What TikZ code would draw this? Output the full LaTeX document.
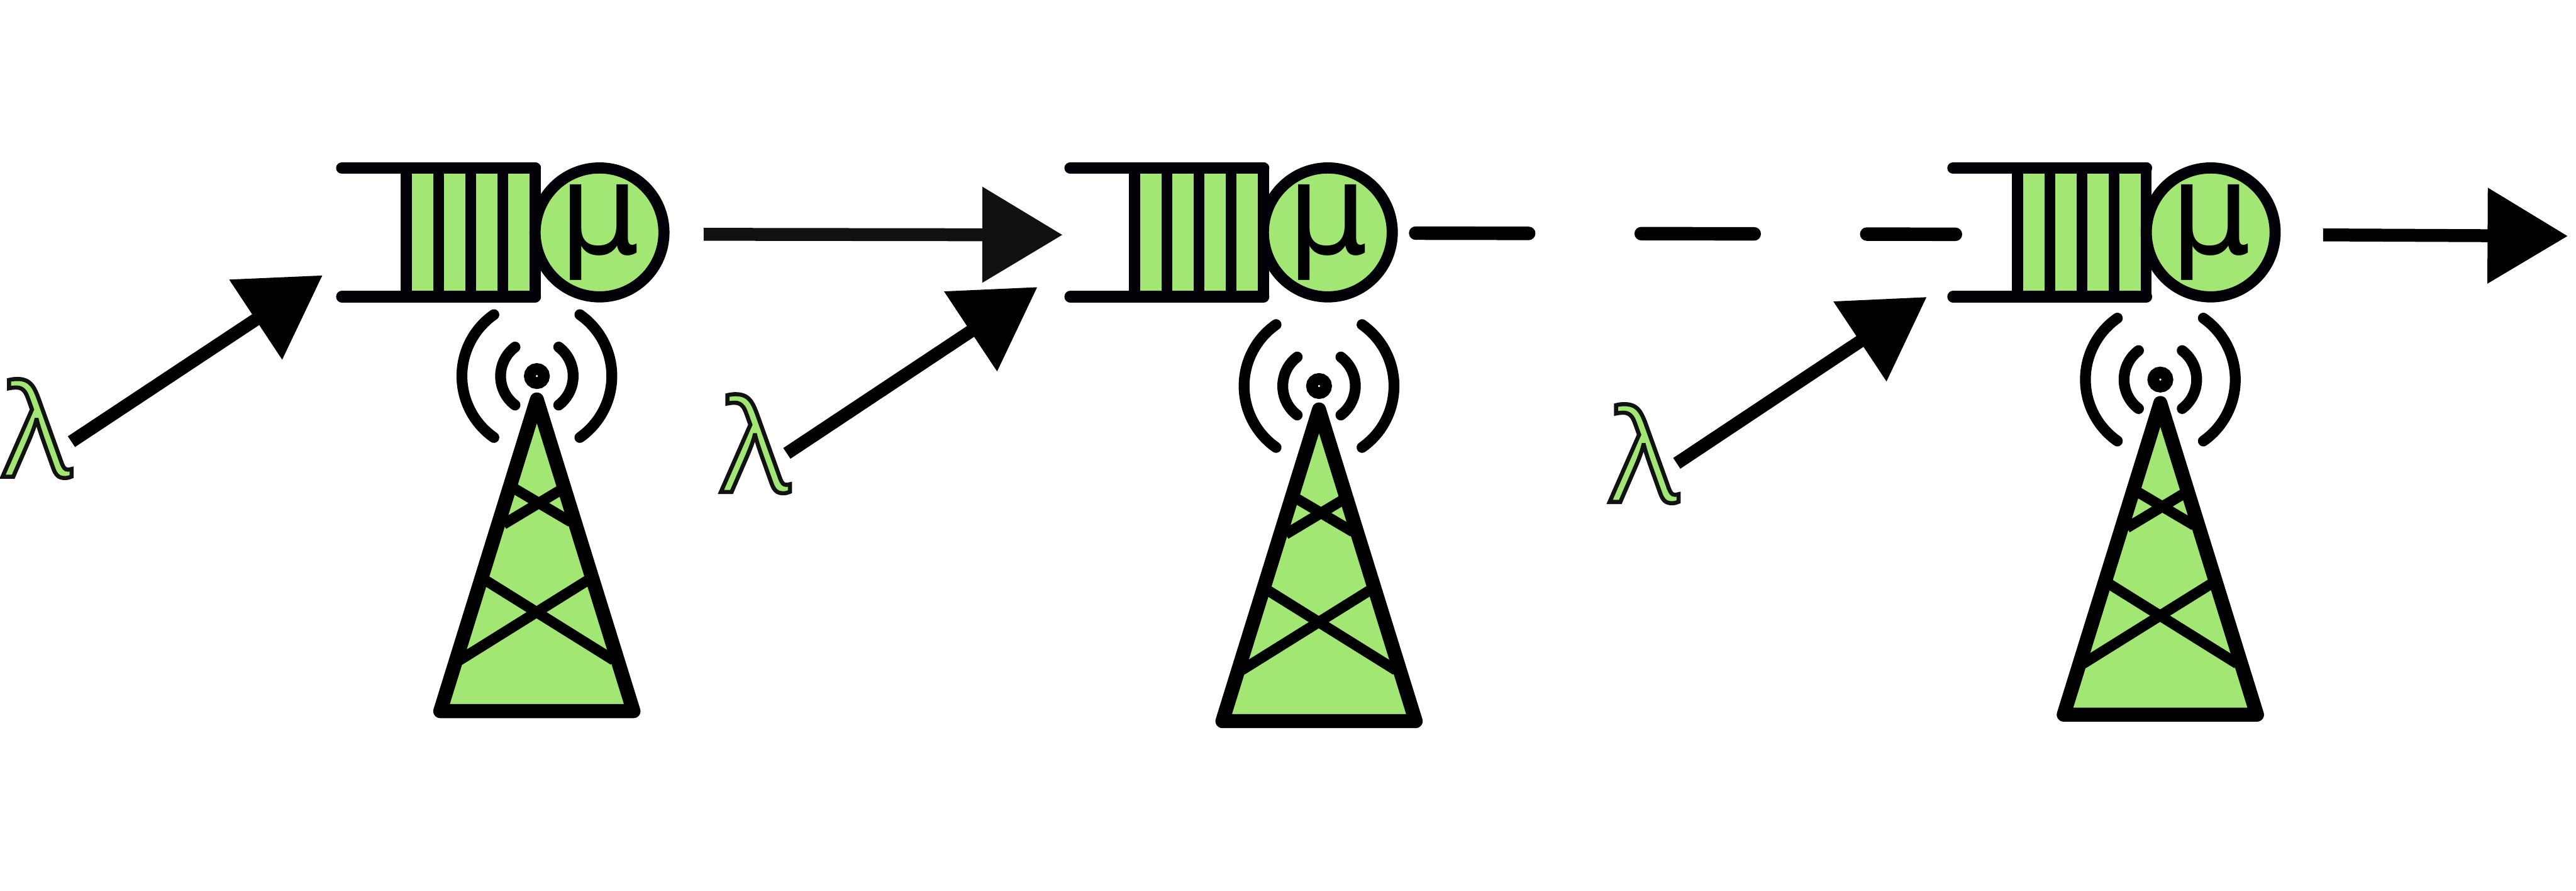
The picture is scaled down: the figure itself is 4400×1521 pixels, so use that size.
\documentclass[tikz,border=0pt]{standalone}
\usepackage{fontspec}
\newfontfamily\glyphfont{DejaVu Sans}
\newfontfamily\ratefont{Open Sans}
\usetikzlibrary{arrows.meta}
\definecolor{cellgreen}{HTML}{A2E673}
\definecolor{queueink}{HTML}{020208}
\definecolor{softink}{HTML}{111111}
\newcommand{\outlineon}{\special{pdf:code 2 Tr 1.99 w 0.07 0.07 0.07 RG}}
\newcommand{\outlineoff}{\special{pdf:code 0 Tr}}

\begin{document}
\begin{tikzpicture}[
  x=0.01cm, y=-0.01cm,
  rate/.style={inner sep=0pt, text=cellgreen, font=\ratefont\fontsize{62pt}{62pt}\selectfont},
  server/.style={circle, draw=queueink, fill=cellgreen, line width=0.19cm, minimum size=2.2cm,
    inner sep=0pt, font=\glyphfont\fontsize{61.5pt}{61.5pt}\selectfont},
  buffer/.style={rectangle, draw=queueink, fill=cellgreen, line width=0.185cm, line join=round,
    minimum width=2.2cm, minimum height=2.195cm, inner sep=0pt, outer sep=0pt},
  rail/.style={draw=queueink, line width=0.2cm, line cap=round},
  cellbar/.style={draw=queueink, line width=0.185cm},
  mast/.style={draw=black, fill=cellgreen, line width=0.24cm, line join=round},
  brace/.style={draw=black, line width=0.18cm},
  wave/.style={draw=black, line width=0.185cm, line cap=round},
  flow/.style={-{Triangle[length=1.37cm, width=1.58cm]}, line width=0.22cm},
  queueunit/.pic={
    \node[buffer] (-box) at (0,0) {};
    \draw[cellbar] (-55,-110) -- (-55,110);
    \draw[cellbar] (0,-110) -- (0,110);
    \draw[cellbar] (55,-110) -- (55,110);
    \draw[rail] (-box.north east) -- ++(-330,0);
    \draw[rail] (-box.south east) -- ++(-330,0);
    \node[server] (-server) at (220,0) {\raisebox{-0.045cm}{μ}};
  },
  towerunit/.pic={
    \draw[mast] (0,0) -- (-165,532) -- (165,532) -- cycle;
    \draw[brace] (-47,147) -- (58,209);
    \draw[brace] (-57,213) -- (43,153);
    \draw[brace] (-92,306) -- (131,445);
    \draw[brace] (-132,445) -- (91,306);
    \draw[wave] (0,-40) ++(127:62) arc[start angle=127, end angle=233, radius=62];
    \draw[wave] (0,-40) ++(-53:62) arc[start angle=-53, end angle=53, radius=62];
    \draw[wave] (0,-40) ++(125:128) arc[start angle=125, end angle=235, radius=128];
    \draw[wave] (0,-40) ++(-55:128) arc[start angle=-55, end angle=55, radius=128];
    \draw[draw=black, line width=0.2cm] (0,-40) circle[radius=12];
  }
]
\useasboundingbox (0,0) rectangle (4400,1521);

\pic (queueA) at (804,396.75) {queueunit};
\pic (queueB) at (2048,396.75) {queueunit};
\pic (queueC) at (3556,396.75) {queueunit};

\pic (towerA) at (917,682) {towerunit};
\pic (towerB) at (2253,699) {towerunit};
\pic (towerC) at (3690,688) {towerunit};

\node[rate] (lambdaA) at (64,731.5) {\outlineon λ\outlineoff};
\node[rate] (lambdaB) at (1291,757.5) {\outlineon λ\outlineoff};
\node[rate] (lambdaC) at (2809,774.5) {\outlineon λ\outlineoff};

% free ends of the connectors
\coordinate (arrivalA) at (122,754);
\coordinate (entryA) at (551,470);
\coordinate (arrivalB) at (1344,774);
\coordinate (entryB) at (1772,490);
\coordinate (arrivalC) at (2864,791);
\coordinate (entryC) at (3291,507);
\coordinate (leaveA) at (1202,400);
\coordinate (passA) at (1815,401);
\coordinate (leaveB) at (2418,398);
\coordinate (passB) at (3340,400);
\coordinate (leaveC) at (3968,401);
\coordinate (passC) at (4386,403);

\draw[flow] (arrivalA) -- (entryA);
\draw[flow] (arrivalB) -- (entryB);
\draw[flow] (arrivalC) -- (entryC);
\draw[flow, softink] (leaveA) -- (passA);
\draw[line width=0.23cm, line cap=round, dash pattern=on 1.93cm off 1.92cm] (leaveB) -- (passB);
\draw[flow] (leaveC) -- (passC);
\end{tikzpicture}
\end{document}
